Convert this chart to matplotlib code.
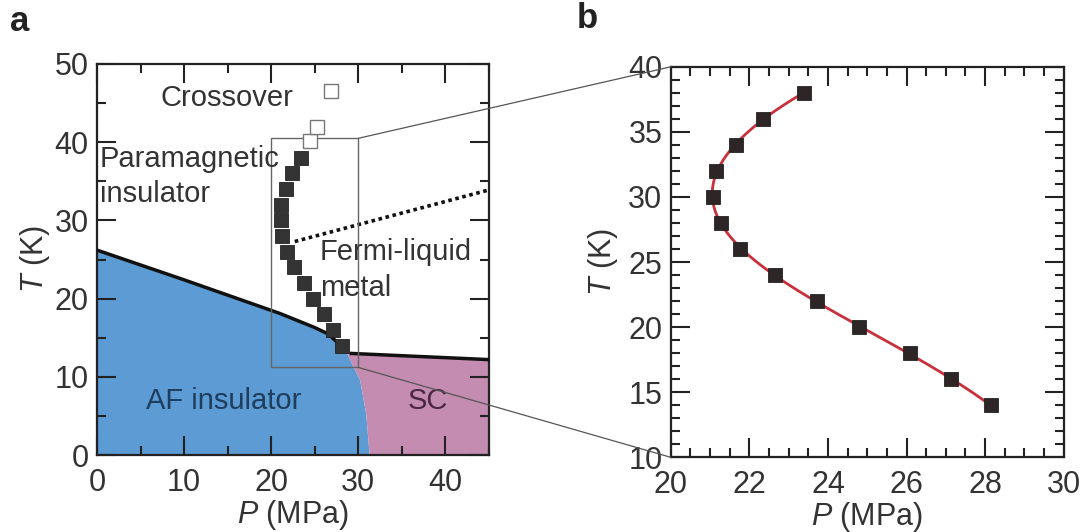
import numpy as np
import matplotlib
matplotlib.use("Agg")
import matplotlib.pyplot as plt
from matplotlib.patches import Polygon, Rectangle, ConnectionPatch
from matplotlib.ticker import MultipleLocator

plt.rcParams['font.family'] = ['Liberation Sans', 'DejaVu Sans']
plt.rcParams['mathtext.fontset'] = 'custom'
plt.rcParams['mathtext.rm'] = 'Liberation Sans'
plt.rcParams['mathtext.it'] = 'Liberation Sans:italic'

# ---------------- data ----------------
# Mott transition points (filled squares)
P_mott = [23.38, 22.36, 21.66, 21.15, 21.08, 21.28, 21.77, 22.66, 23.71, 24.78, 26.09, 27.14, 28.14]
T_mott = [38, 36, 34, 32, 30, 28, 26, 24, 22, 20, 18, 16, 14]
# crossover points (open squares)
P_cross = [24.5, 25.3, 26.9]
T_cross = [40.1, 42.0, 46.6]
# AF insulator boundary (thick black line)
P_af = [0, 10, 18.7, 21.0, 23.0, 25.0, 26.5, 27.6, 28.6]
T_af = [26.2, 22.4, 19.0, 18.1, 17.2, 16.3, 15.5, 14.4, 13.3]
# AF / SC boundary
P_afsc = [28.6, 29.3, 30.2, 30.9, 31.3]
T_afsc = [13.3, 11.6, 9.6, 5.3, 0.0]
# SC boundary (thick black line)
P_sc = [29.0, 45.0]
T_sc = [13.0, 12.2]
# dotted line
P_dot = [22.7, 45.0]
T_dot = [27.3, 33.9]
# inset rectangle in panel a
rect_P = [20, 30]
rect_T = [11.2, 40.5]

blue = '#5c9bd3'
pink = '#c48cb0'
txt = '#333333'
FS = 21
TFS = 22

fig = plt.figure(figsize=(10.85, 5.32), dpi=100)
axA = fig.add_axes([0.0894, 0.1447, 0.3613, 0.735])
axB = fig.add_axes([0.6182, 0.1404, 0.3622, 0.734])

def style(ax):
    for s in ax.spines.values():
        s.set_linewidth(1.6)
        s.set_color('#222222')
    ax.tick_params(which='both', direction='in', top=True, right=True,
                   colors='#222222', labelcolor=txt, labelsize=TFS, width=1.5)
    ax.tick_params(which='major', length=13.5)
    ax.tick_params(which='minor', length=6.5)
    ax.tick_params(axis='y', pad=6)
    ax.tick_params(axis='x', pad=9)

# ---------------- panel a ----------------
ax = axA
ax.set_xlim(0, 45)
ax.set_ylim(0, 50)
blue_poly = list(zip([0] + P_af + P_afsc[1:], [0] + T_af + T_afsc[1:]))
ax.add_patch(Polygon(blue_poly, closed=True, facecolor=blue, edgecolor='none', zorder=1))
pink_poly = [(P_sc[0], T_sc[0]), (P_sc[1], T_sc[1]), (45, 0)] + \
            list(zip(P_afsc[::-1], T_afsc[::-1]))
ax.add_patch(Polygon(pink_poly, closed=True, facecolor=pink, edgecolor='none', zorder=1))
ax.plot(P_af, T_af, color='#111111', lw=2.5, zorder=3, solid_capstyle='butt')
ax.plot(P_sc, T_sc, color='#111111', lw=2.5, zorder=3, solid_capstyle='butt')
ax.plot(P_dot, T_dot, color='#111111', lw=2.6, linestyle=(0, (1.0, 1.0)), zorder=3)
ax.add_patch(Rectangle((rect_P[0], rect_T[0]), rect_P[1] - rect_P[0], rect_T[1] - rect_T[0],
                       fill=False, edgecolor='#666666', lw=1.0, zorder=4))
ax.plot(P_mott, T_mott, 's', ms=10.5, mfc='#333333', mec='#222222', mew=0.6, zorder=5)
ax.plot(P_cross, T_cross, 's', ms=9.5, mfc='white', mec='#777777', mew=1.0, zorder=5)

ax.text(14.9, 45.6, 'Crossover', fontsize=FS, color=txt, ha='center', va='center', zorder=6)
ax.text(0.3, 37.9, 'Paramagnetic', fontsize=FS, color=txt, ha='left', va='center', zorder=6)
ax.text(0.3, 33.4, 'insulator', fontsize=FS, color=txt, ha='left', va='center', zorder=6)
ax.text(25.6, 26.0, 'Fermi-liquid', fontsize=FS, color=txt, ha='left', va='center', zorder=6)
ax.text(25.6, 21.4, 'metal', fontsize=FS, color=txt, ha='left', va='center', zorder=6)
ax.text(14.6, 6.9, 'AF insulator', fontsize=FS, color='#1f3d5c', ha='center', va='center', zorder=6)
ax.text(38.0, 6.9, 'SC', fontsize=FS, color='#4a2744', ha='center', va='center', zorder=6)

ax.xaxis.set_major_locator(MultipleLocator(10))
ax.xaxis.set_minor_locator(MultipleLocator(5))
ax.yaxis.set_major_locator(MultipleLocator(10))
ax.yaxis.set_minor_locator(MultipleLocator(5))
style(ax)
ax.set_xlabel(r'$\it{P}$ (MPa)', fontsize=TFS, color=txt, labelpad=0)
ax.set_ylabel(r'$\it{T}$ (K)', fontsize=TFS, color=txt, labelpad=2)

# ---------------- panel b ----------------
ax = axB
ax.set_xlim(20, 30)
ax.set_ylim(10, 40)
coef = np.polyfit(T_mott, P_mott, 6)
Tf = np.linspace(min(T_mott), max(T_mott), 300)
ax.plot(np.polyval(coef, Tf), Tf, color='#c8303c', lw=2.0, zorder=3)
ax.plot(P_mott, T_mott, 's', ms=10, mfc='#2e2626', mec='#222222', mew=0.6, zorder=4)
ax.xaxis.set_major_locator(MultipleLocator(2))
ax.xaxis.set_minor_locator(MultipleLocator(0.5))
ax.yaxis.set_major_locator(MultipleLocator(5))
ax.yaxis.set_minor_locator(MultipleLocator(1))
style(ax)
ax.set_xlabel(r'$\it{P}$ (MPa)', fontsize=TFS, color=txt, labelpad=0)
ax.set_ylabel(r'$\it{T}$ (K)', fontsize=TFS, color=txt, labelpad=6)

# connection lines
for yA, yB in [(rect_T[1], 40), (rect_T[0], 10)]:
    cp = ConnectionPatch(xyA=(rect_P[1], yA), coordsA=axA.transData,
                         xyB=(20, yB), coordsB=axB.transData,
                         color='#555555', lw=0.9, zorder=10)
    fig.add_artist(cp)

fig.text(10 / 1085, 1 - 31 / 532, 'a', fontsize=25, fontweight='bold', color='#222222')
fig.text(577 / 1085, 1 - 28 / 532, 'b', fontsize=25, fontweight='bold', color='#222222')

fig.savefig('out.png', dpi=100)
